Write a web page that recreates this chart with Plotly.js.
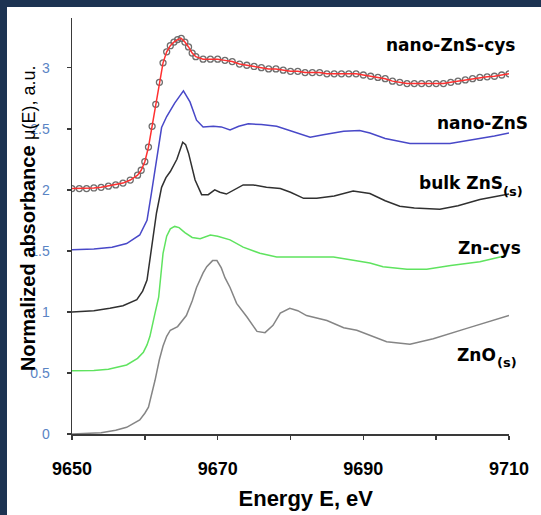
<!DOCTYPE html>
<html><head><meta charset="utf-8">
<script src="https://cdn.plot.ly/plotly-3.0.1.min.js"></script>
<style>
html,body{margin:0;padding:0;background:#1d3352;width:541px;height:515px;overflow:hidden;}
#chart{position:absolute;left:7px;top:7px;width:534px;height:508px;background:#fff;}
</style></head><body><div id="chart"></div>
<script>
// nano-ZnS-cys (measured points + fit line)
const cysE  = [9650,9651,9652,9653,9654,9655,9656,9657,9658,9659,9659.5,9660,9660.5,9661,9661.5,9662,9662.5,9663,9663.5,9664,9664.5,9665,9665.5,9666,9666.5,9667,9668,9669,9670,9671,9672,9673,9674,9675,9676,9677,9678,9679,9680,9681,9682,9683,9684,9685,9686,9687,9688,9689,9690,9691,9692,9693,9694,9695,9696,9697,9698,9699,9700,9701,9702,9703,9704,9705,9706,9707,9708,9709,9710];
const cysMu = [2.01,2.01,2.01,2.015,2.02,2.03,2.04,2.055,2.08,2.12,2.16,2.23,2.35,2.52,2.70,2.88,3.04,3.13,3.18,3.21,3.23,3.24,3.21,3.17,3.12,3.09,3.07,3.07,3.07,3.06,3.05,3.03,3.02,3.01,3.00,2.99,2.99,2.98,2.97,2.97,2.96,2.96,2.96,2.95,2.95,2.95,2.95,2.95,2.94,2.93,2.92,2.91,2.89,2.88,2.87,2.87,2.87,2.87,2.87,2.87,2.88,2.89,2.90,2.91,2.92,2.925,2.93,2.94,2.95];
// nano-ZnS
const nanoE  = [9650,9653,9655.5,9657.5,9659.3,9660.3,9660.9,9661.6,9662.3,9663,9664.1,9665.3,9666.2,9667.1,9668,9669.4,9670.5,9671.7,9672.9,9674.2,9676,9678.1,9680.5,9682.7,9684.5,9687.3,9689.5,9690.9,9693,9696.4,9701.9,9705,9708,9710];
const nanoMu = [1.51,1.515,1.53,1.56,1.63,1.75,1.97,2.24,2.51,2.60,2.71,2.81,2.72,2.57,2.515,2.52,2.515,2.49,2.52,2.54,2.535,2.52,2.47,2.43,2.45,2.48,2.485,2.465,2.42,2.38,2.38,2.41,2.44,2.465];
// bulk ZnS(s)
const bulkE  = [9650,9653,9655.2,9657,9658.9,9659.7,9660.3,9660.9,9661.6,9662.3,9662.9,9663.5,9664.4,9665.2,9665.6,9666,9666.9,9667.8,9668.7,9669.6,9670.3,9671.2,9672.3,9673.5,9674.9,9676.7,9678.6,9680,9681.8,9683.6,9686,9688.6,9690.9,9693,9695,9697,9700.5,9703,9706,9708,9710];
const bulkMu = [1.00,1.01,1.03,1.05,1.10,1.17,1.26,1.53,1.81,2.02,2.10,2.15,2.25,2.39,2.37,2.30,2.08,1.96,1.96,2.00,1.98,1.965,2.00,2.04,2.04,2.02,2.01,1.98,1.93,1.93,1.95,1.99,1.97,1.91,1.866,1.85,1.84,1.87,1.92,1.945,1.965];
// Zn-cys
const zncysE  = [9650,9653,9655,9657.5,9659,9659.8,9660.3,9660.7,9661.4,9661.9,9662.2,9662.5,9663,9663.5,9664.1,9664.7,9665.5,9666.5,9667.6,9669,9670,9671.7,9673.5,9675.8,9678.1,9682,9685.9,9688,9690.9,9692.7,9696,9698.7,9702,9706,9709.5];
const zncysMu = [0.518,0.52,0.53,0.565,0.62,0.67,0.73,0.80,0.99,1.12,1.30,1.48,1.62,1.68,1.70,1.69,1.65,1.61,1.60,1.63,1.62,1.59,1.53,1.48,1.45,1.45,1.45,1.43,1.40,1.37,1.35,1.35,1.38,1.41,1.46];
// ZnO(s)
const znoE  = [9650,9652,9654,9656,9657.5,9659.3,9660,9660.5,9661,9661.4,9662,9662.5,9663,9663.5,9664.5,9665.7,9666.5,9667.1,9668,9668.5,9669.3,9669.9,9670.5,9671,9671.7,9672.6,9674,9675.4,9676.5,9677.6,9678.6,9679.9,9681,9682.2,9685,9687.3,9689.1,9690.9,9693.2,9696.4,9699.6,9704.2,9710];
const znoMu = [0.00,0.005,0.01,0.03,0.055,0.115,0.17,0.22,0.33,0.44,0.61,0.72,0.80,0.85,0.88,0.97,1.09,1.20,1.32,1.37,1.42,1.42,1.36,1.28,1.20,1.07,0.96,0.84,0.83,0.89,0.99,1.03,1.01,0.97,0.93,0.87,0.85,0.81,0.755,0.735,0.78,0.865,0.97];

const seriesNames = ['nano-ZnS-cys','nano-ZnS','bulk ZnS','Zn-cys','ZnO'];
const seriesSubs  = ['','','(s)','','(s)'];
const xTickVals = [9650,9670,9690,9710];
const xTickText = ['9650','9670','9690','9710'];
const yTickVals = [0,0.5,1,1.5,2,2.5,3];
const yTickText = ['0','0.5','1','1.5','2','2.5','3'];
const xTitle = 'Energy E, eV';
const yTitleMain = 'Normalized absorbance';
const yTitleUnit = 'μ(E), a.u.';

const lw = 1.5;
const traces = [
  {x: znoE, y: znoMu, mode:'lines', line:{color:'#858585', width:lw}, name:'ZnO(s)'},
  {x: zncysE, y: zncysMu, mode:'lines', line:{color:'#5fe35f', width:lw}, name:'Zn-cys'},
  {x: bulkE, y: bulkMu, mode:'lines', line:{color:'#303030', width:lw}, name:'bulk ZnS(s)'},
  {x: nanoE, y: nanoMu, mode:'lines', line:{color:'#4848c8', width:lw}, name:'nano-ZnS'},
  {x: cysE, y: cysMu, mode:'markers', marker:{symbol:'circle-open', size:6, color:'#6e6e6e', line:{width:1.3}}, name:'nano-ZnS-cys data'},
  {x: cysE, y: cysMu, mode:'lines', line:{color:'#ff3030', width:lw}, name:'nano-ZnS-cys fit'}
];

const labFont = {family:'DejaVu Sans', size:17, color:'#000', weight:'bold'};
const subFont = {family:'DejaVu Sans', size:13, color:'#000', weight:'bold'};
// label placement: right edge (paper x), vertical centre (data y), subscript left edge and centre
const labelPos = [
  {x: 1.018, y: 3.186},
  {x: 1.048, y: 2.545},
  {x: 0.990, y: 2.058, xs: 0.982, ys: 1.99},
  {x: 1.031, y: 1.521},
  {x: 0.975, y: 0.647, xs: 0.967, ys: 0.585}
];
const annotations = [];
labelPos.forEach((p, i) => {
  annotations.push({
    xref:'paper', yref:'y', x:p.x, y:p.y, xanchor:'right', yanchor:'middle',
    showarrow:false, font:labFont, text:seriesNames[i]
  });
  if (seriesSubs[i]) {
    annotations.push({
      xref:'paper', yref:'y', x:p.xs, y:p.ys, xanchor:'left', yanchor:'middle',
      showarrow:false, font:subFont, text:seriesSubs[i]
    });
  }
});
// y-axis title, overlapping the tick labels as in the original
annotations.push({
  xref:'paper', yref:'paper', x:-0.102, y:0.52, xanchor:'center', yanchor:'middle',
  textangle:-90, showarrow:false,
  font:{family:'Liberation Sans', size:20, color:'#000'},
  text:'<b>' + yTitleMain + '</b> <span style="font-size:18px">' + yTitleUnit + '</span>'
});

const layout = {
  width: 534, height: 508,
  margin: {l:65, r:32, t:11, b:81, pad:0},
  paper_bgcolor:'#ffffff', plot_bgcolor:'#ffffff',
  showlegend:false,
  font:{family:'Liberation Sans, Arial, sans-serif'},
  xaxis:{
    range:[9650,9710], showgrid:false, zeroline:false,
    showline:true, linecolor:'#3a3a3a', linewidth:1.5,
    ticks:'outside', ticklen:4, tickwidth:1.5, tickcolor:'#3a3a3a',
    tickmode:'array', tickvals:xTickVals, ticktext:xTickText, ticklabelstandoff:14,
    minor:{tickmode:'linear', tick0:9650, dtick:10, ticks:'outside', ticklen:4, tickwidth:1.5, tickcolor:'#3a3a3a', showgrid:false},
    tickfont:{family:'Liberation Sans', size:18, color:'#000', weight:'bold'},
    title:{text:'&nbsp;&nbsp;&nbsp;&nbsp;&nbsp;' + xTitle, font:{family:'Liberation Sans', size:22, color:'#000', weight:'bold'}, standoff:12}
  },
  yaxis:{
    range:[0,3.407], showgrid:false, zeroline:false,
    showline:true, linecolor:'#3a3a3a', linewidth:1.5,
    ticks:'outside', ticklen:4, tickwidth:1.5, tickcolor:'#3a3a3a',
    tickvals:yTickVals, ticktext:yTickText, ticklabelstandoff:14,
    tickfont:{family:'Liberation Sans', size:14, color:'#5a84c4'}
  },
  annotations: annotations
};

Plotly.newPlot('chart', traces, layout, {displayModeBar:false, staticPlot:true});
</script></body></html>
